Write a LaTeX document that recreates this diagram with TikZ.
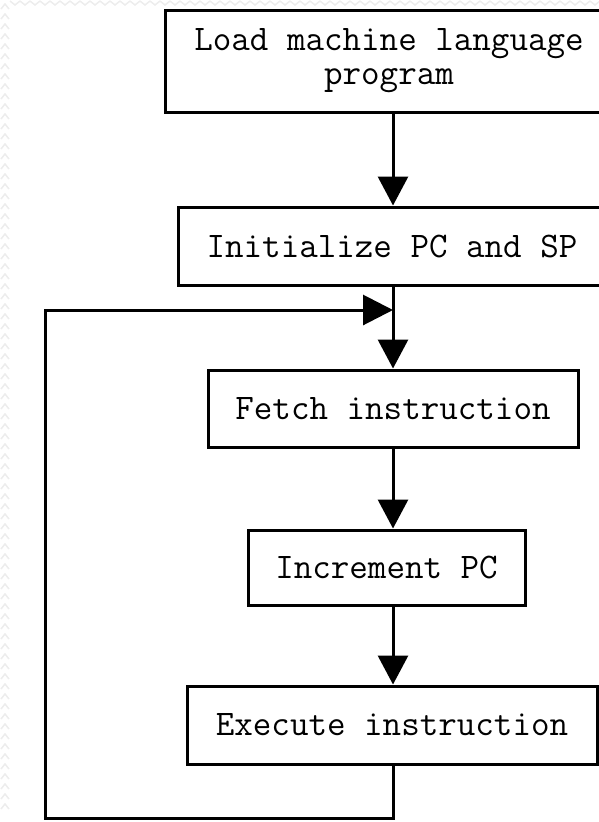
\documentclass[tikz,border=0pt]{standalone}
\usetikzlibrary{arrows.meta}
\begin{document}
\begin{tikzpicture}[x=1pt,y=-1pt,
  stepbox/.style={draw, line width=3pt, inner sep=0pt, align=center,
    font=\ttfamily\fontsize{36}{34}\selectfont},
  flow/.style={line width=3pt, -{Triangle[length=29pt,width=30pt]}},
  plain/.style={line width=3pt}]
  \useasboundingbox (0,0) rectangle (599,822);
  \begin{scope}
    \clip (0,0) rectangle (599,822);
    % faint chevron border along the left and top edges
    \foreach \k in {0,...,80}
      \draw[black!7, line width=1.5pt] (1,{\k*10+9}) -- (5,{\k*10+4}) -- (9,{\k*10+9});
    \foreach \k in {1,...,59}
      \draw[black!7, line width=1.5pt] ({\k*10},1) -- ({\k*10+5},5) -- ({\k*10+10},1);

    \coordinate (spine) at (393,0);

    \node[stepbox, minimum width=448pt, minimum height=102pt] (load) at (389,61)
      {Load machine language\\program};
    \node[stepbox, minimum width=428pt, minimum height=78pt] (init) at (392,246)
      {Initialize PC and SP};
    \node[stepbox, minimum width=370pt, minimum height=77pt] (fetch) at (393,408.5)
      {Fetch instruction};
    \node[stepbox, minimum width=277pt, minimum height=75pt] (inc) at (386.5,567.5)
      {Increment PC};
    \node[stepbox, minimum width=410pt, minimum height=78pt] (exec) at (392,725)
      {Execute instruction};

    \coordinate (join) at (393,310);
    \coordinate (loopbr) at (393,818);
    \coordinate (loopbl) at (45,818);
    \coordinate (looptl) at (45,310);

    \draw[flow] (load.south -| spine) -- (init.north -| spine);
    \draw[plain] (init.south -| spine) -- (join);
    \draw[flow] (join) -- (fetch.north -| spine);
    \draw[flow] (fetch.south -| spine) -- (inc.north -| spine);
    \draw[flow] (inc.south -| spine) -- (exec.north -| spine);
    \draw[line width=3pt, line join=miter, -{Triangle[length=30pt,width=30pt]}]
      (exec.south -| spine) -- (loopbr) -- (loopbl) -- (looptl) -- (join);
  \end{scope}
\end{tikzpicture}
\end{document}
